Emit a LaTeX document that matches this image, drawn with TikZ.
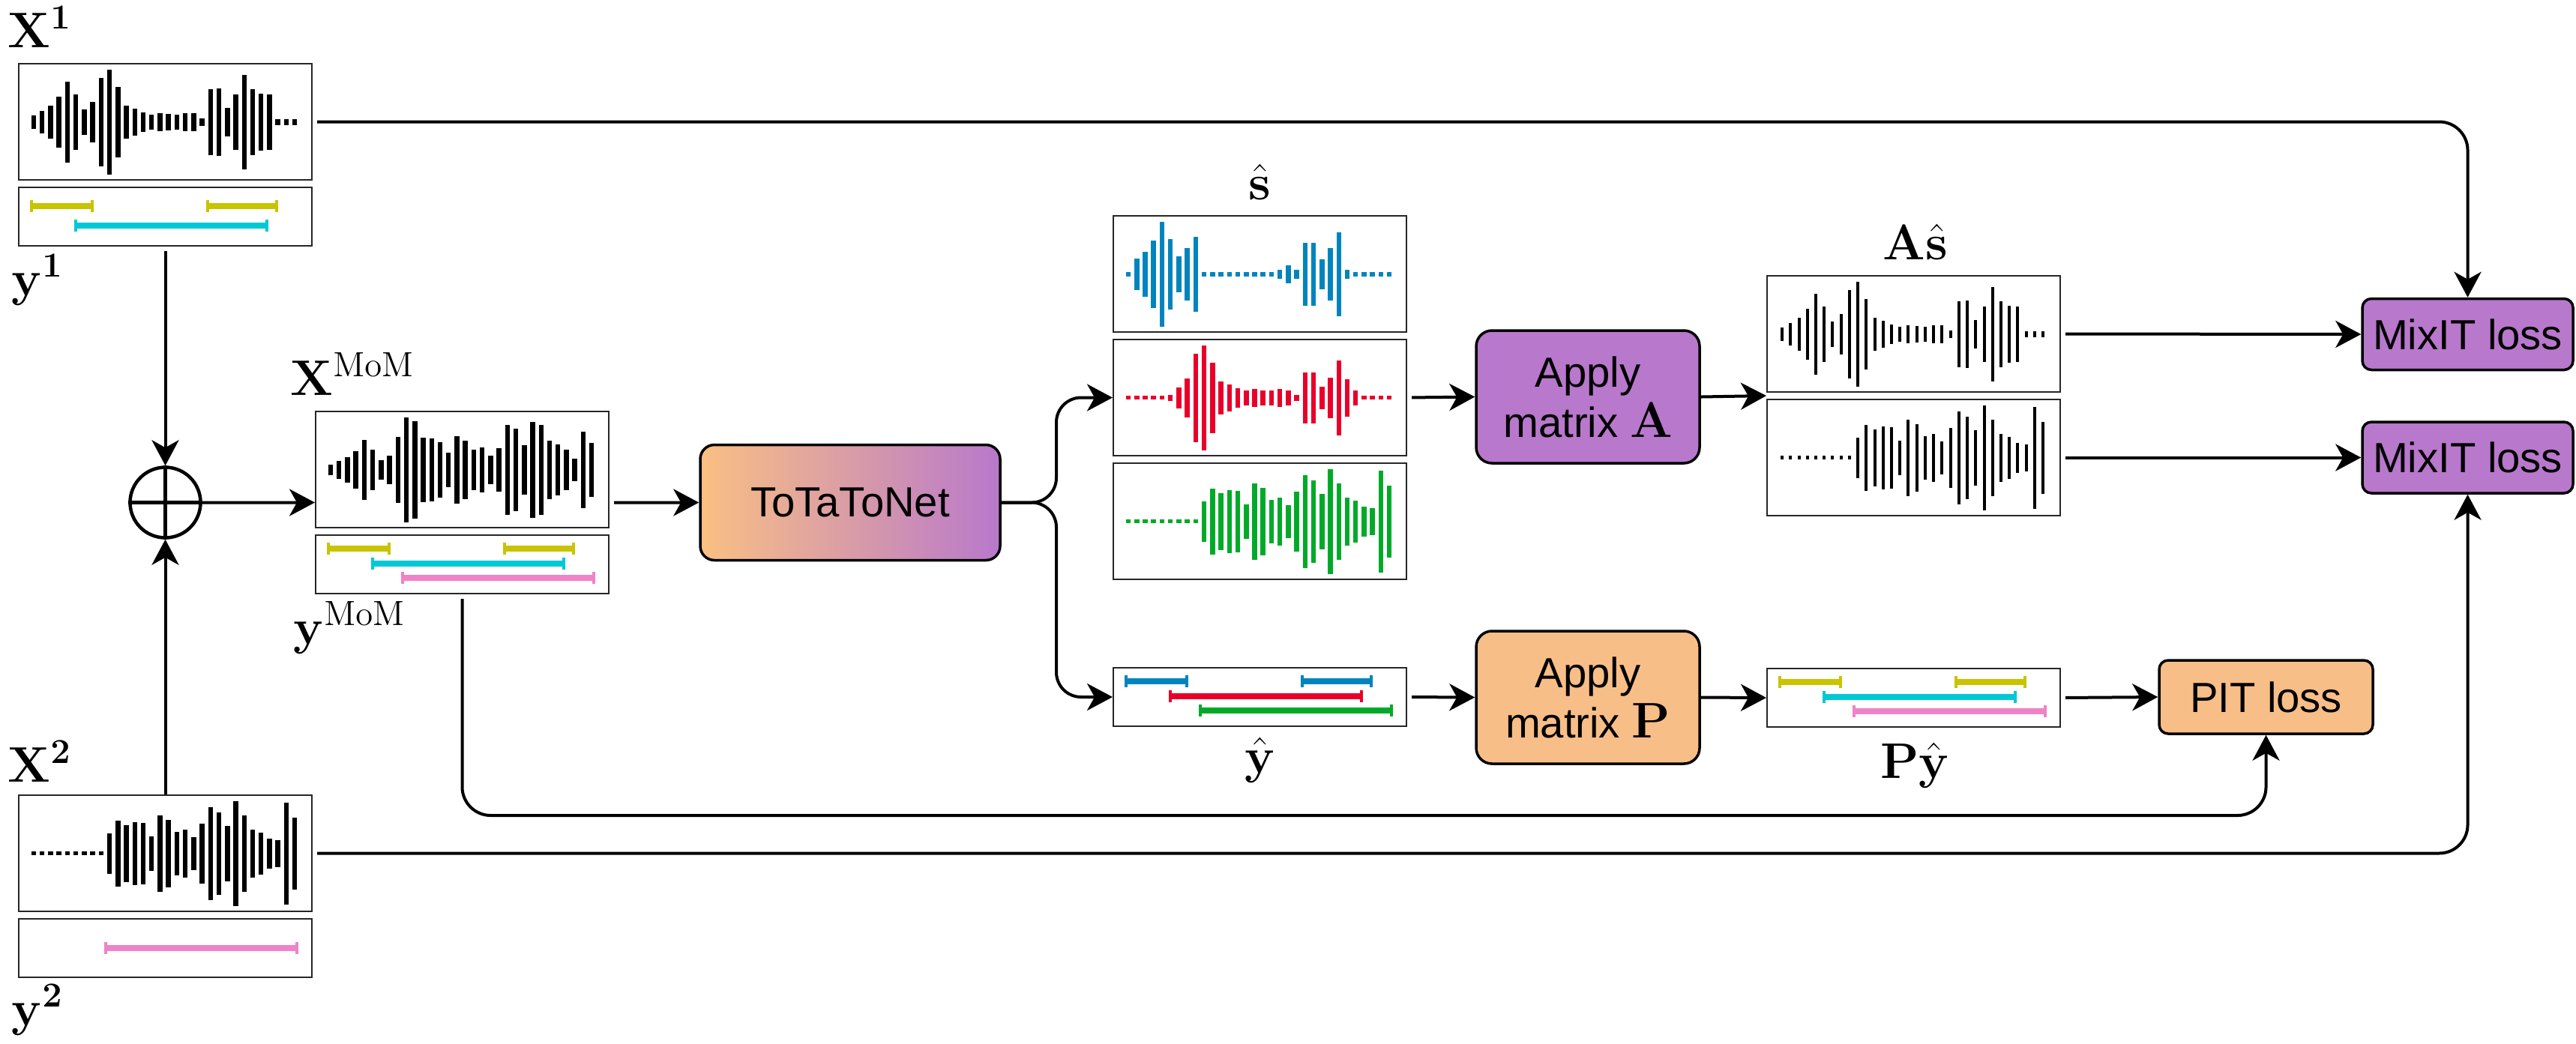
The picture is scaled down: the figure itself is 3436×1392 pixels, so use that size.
\RequirePackage{fix-cm}
\documentclass[tikz,border=0pt]{standalone}
\definecolor{tagyellow}{RGB}{200,196,0}
\definecolor{tagcyan}{RGB}{0,200,212}
\definecolor{tagpink}{RGB}{240,130,200}
\definecolor{srcblue}{RGB}{0,132,190}
\definecolor{srcred}{RGB}{232,0,42}
\definecolor{srcgreen}{RGB}{0,170,40}
\definecolor{boxpurple}{RGB}{184,120,204}
\definecolor{boxorange}{RGB}{248,190,136}
\definecolor{totaleft}{RGB}{250,192,130}
\usepackage{amsmath,amssymb}
\usepackage[no-math]{fontspec}
\newfontfamily\helv{Liberation Sans}
\usepackage{tikz}
\usetikzlibrary{arrows.meta,positioning,calc}

% half heights of the bars, one slot every 11.23 units
\def\wavexone{9,15,22,34,54,37,17,27,59,70,47,22,18,13,10,12,11,10,12,12,5,44,45,19,37,63,44,38,37,4,4,4}
\def\wavextwo{2.5,2.5,2.5,2.5,2.5,2.5,2.5,2.5,2.5,27,44,38,42,41,23,51,45,29,32,22,40,62,55,37,70,51,32,28,20,18,68,48}
\def\wavemom{7,12,17,25,40,27,13,19,44,70,65,43,42,37,23,45,39,27,30,19,29,60,55,33,64,60,39,34,27,15,51,36}
\def\waveblue{3,21,30,45,70,47,24,35,50,3,3,3,3,3,3,3,3,3,6,12,6,42,42,20,35,56,6,3,3,3,3,3}
\def\wavered{2.5,2.5,2.5,2.5,2.5,4,14,26,59,70,47,22,18,13,10,12,10,10,12,10,4,34,34,15,27,50,25,10,2.5,2.5,2.5,2.5}

\newcommand{\drawwave}[4]{%
  \foreach \h [count=\i from 0] in #4
    \fill[#2] ($(#1.west)+({21+\i*11.23-#3/2},{-\h})$) rectangle ++(#3,{2*\h});
}
\newcommand{\tagbar}[5]{%
  \draw[#2, line width=0.72mm] ($(#1.north west)+(#4,#3)$) -- ($(#1.north west)+(#5,#3)$);
  \draw[#2, line width=0.35mm] ($(#1.north west)+(#4,#3-8)$) -- ++(0,16)
    ($(#1.north west)+(#5,#3-8)$) -- ++(0,16);
}

\begin{document}
\begin{tikzpicture}[x=0.1mm, y=-0.1mm,
    wavebox/.style={draw=black!85, line width=0.2mm, minimum width=3.91cm, minimum height=1.55cm, inner sep=0},
    tagbox/.style={draw=black!85, line width=0.2mm, minimum width=3.91cm, minimum height=0.78cm, inner sep=0},
    block/.style={draw, line width=0.35mm, rounded corners=2.1mm, align=center, inner sep=1pt, font=\helv\fontsize{16}{19}\selectfont},
    lossbox/.style={block, rounded corners=1.2mm},
    lab/.style={inner sep=0, font=\fontsize{19}{23}\selectfont},
    conn/.style={line width=0.4mm, -{Stealth[length=3.4mm, width=3.6mm, inset=1mm]}},
    loose/.style={shorten <=0.6mm}]
  \useasboundingbox (0,0) rectangle (3436,1392);

  % inputs
  \node[wavebox] (x1wave) at (220.5,162.5) {};
  \node[tagbox] (x1tags) at (220.5,289) {};
  \node[wavebox] (x2wave) at (220.5,1138.5) {};
  \node[tagbox] (x2tags) at (220.5,1265) {};
  \node[lab, anchor=base west] (x1lab) at (10,63) {$\mathbf{X}^{\mathbf{1}}$};
  \node[lab, anchor=base west] (y1lab) at (15,394) {$\mathbf{y}^{\mathbf{1}}$};
  \node[lab, anchor=base west] (x2lab) at (10,1043) {$\mathbf{X}^{\mathbf{2}}$};
  \node[lab, anchor=base west] (y2lab) at (15,1368) {$\mathbf{y}^{\mathbf{2}}$};
  \drawwave{x1wave}{black}{6.5}{\wavexone}
  \drawwave{x2wave}{black}{6.5}{\wavextwo}
  \tagbar{x1tags}{tagyellow}{26}{18}{99}
  \tagbar{x1tags}{tagyellow}{26}{253}{345}
  \tagbar{x1tags}{tagcyan}{52}{77}{332}
  \tagbar{x2tags}{tagpink}{40}{117}{372}

  % mixture of mixtures
  \node[circle, draw, line width=0.45mm, minimum size=9.4mm, inner sep=0] (oplus) at (220.5,670.5) {};
  \draw[line width=0.45mm] (oplus.north) -- (oplus.south) (oplus.west) -- (oplus.east);
  \node[wavebox] (momwave) at (616.5,626.5) {};
  \node[tagbox] (momtags) at (616.5,753) {};
  \node[lab, anchor=base west] (momxlab) at (387,527) {$\mathbf{X}^{\mathrm{MoM}}$};
  \node[lab, anchor=base west] (momylab) at (391,859) {$\mathbf{y}^{\mathrm{MoM}}$};
  \drawwave{momwave}{black}{6.5}{\wavemom}
  \tagbar{momtags}{tagyellow}{19}{18}{99}
  \tagbar{momtags}{tagyellow}{19}{253}{345}
  \tagbar{momtags}{tagcyan}{39}{77}{332}
  \tagbar{momtags}{tagpink}{58}{117}{372}
  \coordinate (momin) at ($(momwave.north west)!0.5!(momtags.south west)$);
  \coordinate (momout) at ($(momwave.north east)!0.5!(momtags.south east)$);

  % network
  \node[block, left color=totaleft, right color=boxpurple, rounded corners=1.9mm, minimum width=4cm, minimum height=1.54cm] (tota) at (1134,670.5) {ToTaToNet};
  \coordinate (split) at (1409,670.5);

  % separated sources
  \node[wavebox] (s1) at (1680.5,365.5) {};
  \node[wavebox] (s2) at (1680.5,530.5) {};
  \node[wavebox] (s3) at (1680.5,695.5) {};
  \node[tagbox] (yhat) at (1680.5,930) {};
  \node[lab, anchor=base] (slab) at (1680.5,266) {$\hat{\mathbf{s}}$};
  \node[lab, anchor=base] (yhatlab) at (1680.5,1031) {$\hat{\mathbf{y}}$};
  \drawwave{s1}{srcblue}{6.5}{\waveblue}
  \drawwave{s2}{srcred}{6.5}{\wavered}
  \drawwave{s3}{srcgreen}{6.5}{\wavextwo}
  \tagbar{yhat}{srcblue}{19}{18}{99}
  \tagbar{yhat}{srcblue}{19}{253}{345}
  \tagbar{yhat}{srcred}{39}{77}{332}
  \tagbar{yhat}{srcgreen}{58}{117}{372}

  % remixing and permutation
  \node[block, fill=boxpurple, minimum width=2.98cm, minimum height=1.77cm] (applyA) at (2118,529.5) {Apply\\matrix {\fontsize{19}{19}\selectfont$\mathbf{A}$}};
  \node[block, fill=boxorange, minimum width=2.98cm, minimum height=1.77cm] (applyP) at (2118,930.5) {Apply\\matrix {\fontsize{19}{19}\selectfont$\mathbf{P}$}};
  \node[wavebox] (as1) at (2552.5,445.5) {};
  \node[wavebox] (as2) at (2552.5,610.5) {};
  \node[tagbox] (pyhat) at (2552.5,931) {};
  \node[lab, anchor=base] (aslab) at (2555,346) {$\mathbf{A}\hat{\mathbf{s}}$};
  \node[lab, anchor=base] (pylab) at (2554,1038) {$\mathbf{P}\hat{\mathbf{y}}$};
  \drawwave{as1}{black}{4}{\wavexone}
  \drawwave{as2}{black}{4}{\wavextwo}
  \tagbar{pyhat}{tagyellow}{19}{18}{99}
  \tagbar{pyhat}{tagyellow}{19}{253}{345}
  \tagbar{pyhat}{tagcyan}{39}{77}{332}
  \tagbar{pyhat}{tagpink}{58}{117}{372}
  \coordinate (asin) at ($(as1.north west)!0.5!(as2.south west)$);

  % losses
  \node[lossbox, fill=boxpurple, minimum width=2.81cm, minimum height=0.95cm] (mix1) at (3291.5,446) {MixIT loss};
  \node[lossbox, fill=boxpurple, minimum width=2.81cm, minimum height=0.95cm] (mix2) at (3291.5,610.5) {MixIT loss};
  \node[lossbox, fill=boxorange, minimum width=2.85cm, minimum height=0.98cm] (pit) at (3022.5,930) {PIT loss};

  % connectors
  \draw[conn, loose] (x1tags.south) -- (oplus.north);
  \draw[conn] (x2wave.north) -- (oplus.south);
  \draw[conn] (oplus.east) -- (momin);
  \draw[conn, loose] (momout) -- (tota.west);
  \draw[conn, rounded corners=3.3mm] (tota.east) -- (split) |- (s2.west);
  \draw[conn, rounded corners=3.3mm] (tota.east) -- (split) |- (yhat.west);
  \draw[conn, loose] (s2.east) -- (applyA.west);
  \draw[conn] (applyA.east) -- (asin);
  \draw[conn, loose] (as1.east) -- (mix1.west);
  \draw[conn, loose] (as2.east) -- (mix2.west);
  \draw[conn, loose] (yhat.east) -- (applyP.west);
  \draw[conn] (applyP.east) -- (pyhat.west);
  \draw[conn, loose] (pyhat.east) -- (pit.west);
  \draw[conn, loose, rounded corners=3.8mm] (x1wave.east) -| (mix1.north);
  \draw[conn, loose, rounded corners=3.8mm] (x2wave.east) -| (mix2.south);
  \draw[conn, loose, rounded corners=3.8mm] (momtags.south) -- ++(0,295) -| (pit.south);
\end{tikzpicture}
\end{document}
